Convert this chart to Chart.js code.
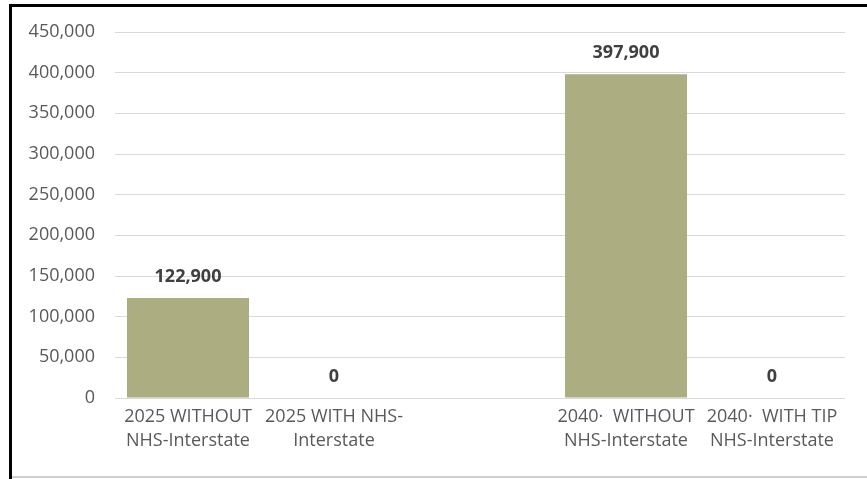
<!DOCTYPE html>
<html>
<head>
<meta charset="utf-8">
<script src="https://cdn.jsdelivr.net/npm/chart.js@4/dist/chart.umd.min.js"></script>
<style>
  html, body { margin: 0; padding: 0; background: #ffffff; }
  #wrap { position: relative; width: 867px; height: 479px; overflow: hidden; }
  #c { position: absolute; left: 0; top: 0; }
  .frame { position: absolute; }
</style>
</head>
<body>
<div id="wrap">
  <canvas id="c" width="867" height="479"></canvas>
  <div class="frame" style="left:9px;top:4px;width:858px;height:3px;background:#000;"></div>
  <div class="frame" style="left:9px;top:4px;width:3px;height:475px;background:#000;"></div>
  <div class="frame" style="left:12px;top:476px;width:855px;height:2px;background:#cfcfcf;"></div>
</div>
<script>
// ---- data ----
const categories = [
  ["2025 WITHOUT", "NHS-Interstate"],
  ["2025 WITH NHS-", "Interstate"],
  "",
  ["2040·  WITHOUT", "NHS-Interstate"],
  ["2040·  WITH TIP", "NHS-Interstate"]
];
const values = [122900, 0, null, 397900, 0];
const yTicks = [0, 50000, 100000, 150000, 200000, 250000, 300000, 350000, 400000, 450000];

const FONT = "'Open Sans', 'Liberation Sans', sans-serif";
const fmt = v => v.toLocaleString('en-US');

const valueLabels = {
  id: 'valueLabels',
  afterDatasetsDraw(chart) {
    const ctx = chart.ctx;
    const meta = chart.getDatasetMeta(0);
    ctx.save();
    ctx.font = "bold 18px " + FONT;
    ctx.fillStyle = '#404040';
    ctx.textAlign = 'center';
    ctx.textBaseline = 'middle';
    meta.data.forEach((bar, i) => {
      const v = chart.data.datasets[0].data[i];
      if (v === null || v === undefined) return;
      ctx.fillText(fmt(v), bar.x, bar.y - 21);
    });
    ctx.restore();
  }
};

new Chart(document.getElementById('c'), {
  type: 'bar',
  data: {
    labels: categories,
    datasets: [{
      data: values,
      backgroundColor: '#adad82',
      borderWidth: 0,
      categoryPercentage: 1.0,
      barPercentage: 0.836
    }]
  },
  options: {
    responsive: false,
    animation: false,
    devicePixelRatio: 1,
    layout: { padding: { left: 0, right: 22, top: 32, bottom: 0 } },
    plugins: {
      legend: { display: false },
      tooltip: { enabled: false },
      title: { display: false }
    },
    scales: {
      x: {
        grid: { display: false, drawTicks: false },
        border: { display: false },
        ticks: {
          color: '#595959',
          font: { family: FONT, size: 18, lineHeight: 1.33 },
          padding: 7,
          maxRotation: 0,
          autoSkip: false
        },
        afterFit(s) { s.height = 479 - 398; }
      },
      y: {
        min: 0,
        max: 450000,
        afterBuildTicks(s) { s.ticks = yTicks.map(v => ({ value: v })); },
        grid: { color: '#d9d9d9', lineWidth: 1, drawTicks: false },
        border: { display: false },
        ticks: {
          color: '#595959',
          font: { family: FONT, size: 18 },
          padding: 20,
          callback: v => fmt(v)
        },
        afterFit(s) { s.width = 115; }
      }
    }
  },
  plugins: [valueLabels]
});
</script>
</body>
</html>
